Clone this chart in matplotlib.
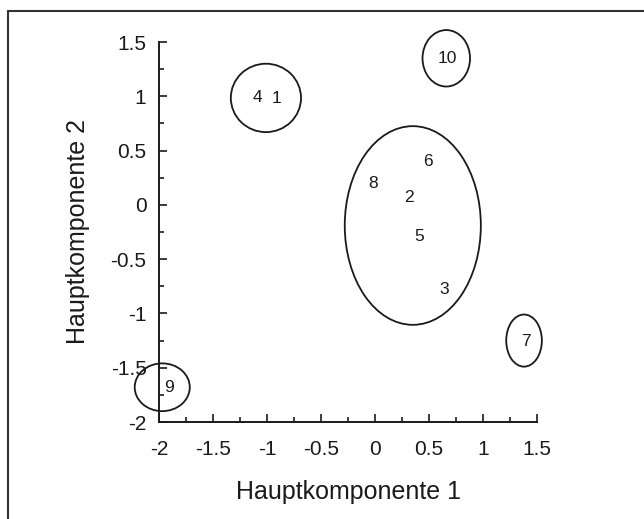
import numpy as np
import matplotlib
matplotlib.use("Agg")
import matplotlib.pyplot as plt
from matplotlib.patches import Ellipse, Rectangle

plt.rcParams['font.family'] = ['Liberation Sans', 'DejaVu Sans']

# scores of the samples on the first two principal components
labels = ['1', '2', '3', '4', '5', '6', '7', '8', '9', '10']
pc1 = [-0.91, 0.31, 0.64, -1.09, 0.41, 0.49, 1.40, -0.02, -1.91, 0.67]
pc2 = [0.98, 0.07, -0.78, 0.985, -0.29, 0.40, -1.26, 0.20, -1.68, 1.35]

# group ellipses (center x, center y, width, height)
ell_x = [-1.01, 0.35, 0.66, 1.38, -1.97]
ell_y = [0.985, -0.19, 1.35, -1.25, -1.68]
ell_w = [0.65, 1.26, 0.44, 0.33, 0.51]
ell_h = [0.63, 1.83, 0.52, 0.48, 0.44]

ink = '#1a1a1a'

fig = plt.figure(figsize=(6.44, 5.19), dpi=100)
ax = fig.add_axes([159/644, 1 - 422/519, 378/644, 380/519])

for lab, x, y in zip(labels, pc1, pc2):
    ax.text(x, y, lab, ha='center', va='center', fontsize=12.5, color=ink)

for cx, cy, w, h in zip(ell_x, ell_y, ell_w, ell_h):
    ax.add_patch(Ellipse((cx, cy), w, h, fill=False, edgecolor=ink, lw=1.3, clip_on=False))

ax.set_xlim(-2, 1.5)
ax.set_ylim(-2, 1.5)
ax.set_xticks(np.arange(-2, 1.51, 0.5))
ax.set_yticks(np.arange(-2, 1.51, 0.5))
ax.set_xticks(np.arange(-2, 1.51, 0.25), minor=True)
ax.set_yticks(np.arange(-2, 1.51, 0.25), minor=True)
ax.set_xticklabels(['-2', '-1.5', '-1', '-0.5', '0', '0.5', '1', '1.5'])
ax.set_yticklabels(['-2', '-1.5', '-1', '-0.5', '0', '0.5', '1', '1.5'])

ax.spines['top'].set_visible(False)
ax.spines['right'].set_visible(False)
for s in ['left', 'bottom']:
    ax.spines[s].set_linewidth(1.4)
    ax.spines[s].set_color(ink)

ax.tick_params(which='both', direction='in', width=1.2, colors=ink, labelsize=15)
ax.tick_params(which='major', length=6)
ax.tick_params(which='minor', length=3.5)
ax.tick_params(axis='x', pad=13)
ax.tick_params(axis='y', pad=9)

ax.set_xlabel('Hauptkomponente 1', fontsize=18, color=ink)
ax.set_ylabel('Hauptkomponente 2', fontsize=18, color=ink)
ax.xaxis.set_label_coords(0.5, -0.153)
ax.yaxis.set_label_coords(-0.182, 0.5)

# outer frame (only top and left edge inside the picture)
fig.patches.append(Rectangle((8/644, -0.2), 1.5, 1.2 - 11/519, transform=fig.transFigure,
                             fill=False, edgecolor='#333333', lw=1.5))

fig.savefig('out.png', dpi=100)
